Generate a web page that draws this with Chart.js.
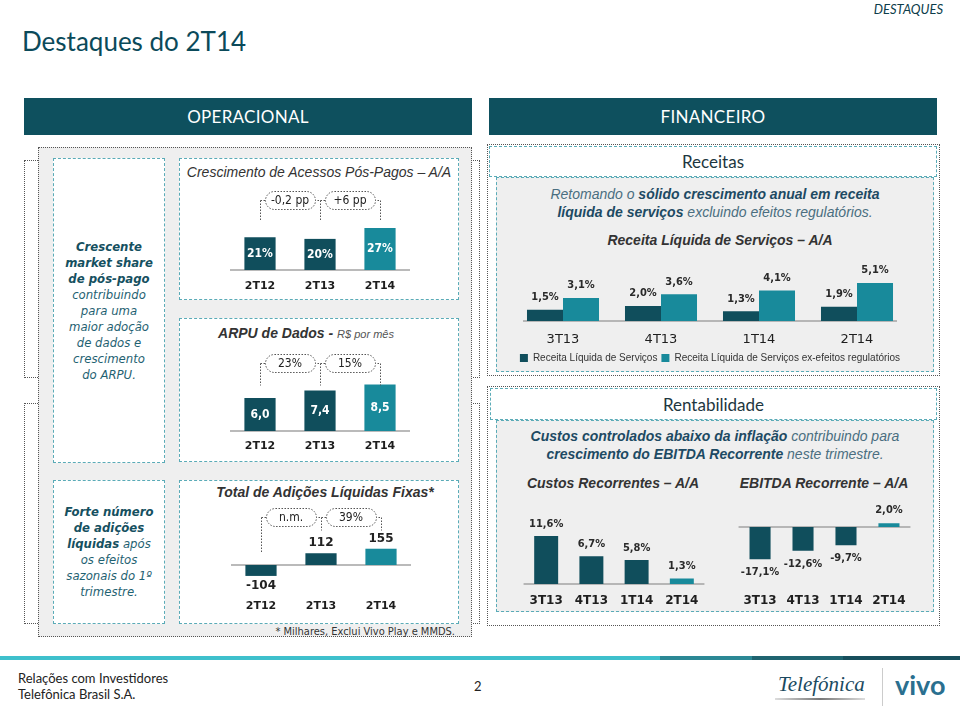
<!DOCTYPE html>
<html><head><meta charset="utf-8">
<script src="https://cdn.jsdelivr.net/npm/chart.js@4.4.1/dist/chart.umd.min.js"></script>
<style>
html,body{margin:0;padding:0;background:#fff;}
body{width:960px;height:707px;position:relative;overflow:hidden;font-family:'DejaVu Sans Condensed','DejaVu Sans',sans-serif;}
.abs{position:absolute;white-space:nowrap;}
.hdr{position:absolute;background:#0e505e;color:#fff;font:17px Lato,sans-serif;display:flex;align-items:center;justify-content:center;letter-spacing:0.3px;}
.wbox{position:absolute;background:#fff;border:1px dashed #5aabb7;box-sizing:border-box;}
.gbox{position:absolute;background:#efefef;box-sizing:border-box;border:1px dashed #5aabb7;}
.dot{position:absolute;border:1px dotted #555;box-sizing:border-box;}
canvas{position:absolute;}
.ctitle{position:absolute;text-align:center;font:italic 14px/16px 'Liberation Sans',Arial,sans-serif;color:#333;white-space:nowrap;}
.note{display:flex;align-items:center;justify-content:center;text-align:center;font:italic 13px/16px 'DejaVu Sans Condensed',sans-serif;color:#1f6272;}
.note b{color:#15505f;}
.sub{position:absolute;text-align:center;font:italic 14px/18px 'Liberation Sans',Arial,sans-serif;color:#4a6e80;white-space:nowrap;}
.sub b{color:#1d4a63;}
.boxhead{display:flex;align-items:center;justify-content:center;font:17px Lato,sans-serif;color:#1d3640;}
</style></head>
<body>
<div class="abs" style="left:22px;top:26px;font:26px/30px Lato,sans-serif;color:#0b4a5a;">Destaques do 2T14</div>
<div class="abs" style="right:17px;top:1px;font:italic 13px/16px Lato,sans-serif;color:#0d3d4b;">DESTAQUES</div>
<div class="hdr" style="left:24px;top:98px;width:448px;height:37px;">OPERACIONAL</div>
<div class="hdr" style="left:489px;top:98px;width:448px;height:37px;">FINANCEIRO</div>

<!-- left column frames -->
<div class="dot" style="left:24px;top:160px;width:456px;height:218px;"></div>
<div class="dot" style="left:24px;top:403px;width:456px;height:221px;"></div>
<div class="dot" style="left:38px;top:147px;width:434px;height:490px;background:#efefef;"></div>
<div class="wbox note" style="left:53px;top:158px;width:112px;height:305px;"><div><b>Crescente<br>market share<br>de pós-pago</b><br>contribuindo<br>para uma<br>maior adoção<br>de dados e<br>crescimento<br>do ARPU.</div></div>
<div class="wbox note" style="left:53px;top:480px;width:112px;height:144px;"><div><b>Forte número<br>de adições<br>líquidas</b> após<br>os efeitos<br>sazonais do 1º<br>trimestre.</div></div>
<div class="wbox" style="left:179px;top:158px;width:280px;height:142px;"></div>
<div class="wbox" style="left:179px;top:318px;width:280px;height:144px;"></div>
<div class="wbox" style="left:179px;top:480px;width:280px;height:144px;"></div>
<div class="ctitle" style="left:179px;top:164px;width:280px;">Crescimento de Acessos Pós-Pagos – A/A</div>
<div class="ctitle" style="left:179px;top:325px;width:254px;"><b>ARPU de Dados - </b><span style="font-size:11px;color:#555;">R$ por mês</span></div>
<div class="ctitle" style="left:185px;top:484px;width:280px;"><b>Total de Adições Líquidas Fixas*</b></div>
<div class="abs" style="right:505px;top:625px;font:11px/14px 'DejaVu Sans Condensed',sans-serif;color:#333;">* Milhares, Exclui Vivo Play e MMDS.</div>

<!-- right column frames -->
<div class="dot" style="left:487px;top:144px;width:453px;height:232px;"></div>
<div class="wbox boxhead" style="left:489px;top:146px;width:448px;height:31px;">Receitas</div>
<div class="gbox" style="left:496px;top:177px;width:438px;height:195px;"></div>
<div class="sub" style="left:496px;top:185px;width:438px;">Retomando o <b>sólido crescimento anual em receita</b><br><b>líquida de serviços</b> excluindo efeitos regulatórios.</div>
<div class="ctitle" style="left:520px;top:232px;width:400px;"><b>Receita Líquida de Serviços – A/A</b></div>

<div class="dot" style="left:487px;top:386px;width:453px;height:240px;"></div>
<div class="wbox boxhead" style="left:490px;top:388px;width:447px;height:32px;">Rentabilidade</div>
<div class="gbox" style="left:496px;top:420px;width:438px;height:192px;"></div>
<div class="sub" style="left:496px;top:427px;width:438px;"><b>Custos controlados abaixo da inflação</b> contribuindo para<br><b>crescimento do EBITDA Recorrente</b> neste trimestre.</div>
<div class="ctitle" style="left:513px;top:475px;width:200px;"><b>Custos Recorrentes – A/A</b></div>
<div class="ctitle" style="left:724px;top:475px;width:200px;"><b>EBITDA Recorrente – A/A</b></div>

<canvas id="cA" width="180" height="118" style="left:230px;top:180px;"></canvas>
<canvas id="cB" width="180" height="116" style="left:230px;top:343px;"></canvas>
<canvas id="cC" width="180" height="123" style="left:231px;top:497px;"></canvas>
<canvas id="cD" width="460" height="123" style="left:485px;top:250px;"></canvas>
<canvas id="cE" width="188" height="110" style="left:520px;top:502px;"></canvas>
<canvas id="cF" width="181" height="122" style="left:734px;top:490px;"></canvas>

<!-- footer -->
<div class="abs" style="left:0;top:656px;width:660px;height:4px;background:#3ec0cc;"></div>
<div class="abs" style="left:660px;top:656px;width:92px;height:4px;background:#2b8895;"></div>
<div class="abs" style="left:752px;top:656px;width:91px;height:4px;background:#1f6470;"></div>
<div class="abs" style="left:843px;top:656px;width:117px;height:4px;background:#174f5c;"></div>
<div class="abs" style="left:18px;top:670px;font:13px/16px Lato,sans-serif;color:#222;">Relações com Investidores<br>Telefônica Brasil S.A.</div>
<div class="abs" style="left:474px;top:678px;font:13px/16px Lato,sans-serif;color:#222;">2</div>
<div class="abs" style="left:778px;top:671px;font:italic 21px/26px 'Liberation Serif',serif;color:#1b4a60;">Telefónica</div>
<div class="abs" style="left:775px;top:698px;width:90px;height:2px;background:linear-gradient(90deg,#ddd,#777,#ddd);"></div>
<div class="abs" style="left:882px;top:668px;width:1px;height:38px;background:#ccc;"></div>
<div class="abs" style="left:895px;top:669px;font:bold 27px/32px Lato,sans-serif;color:#2a6f8f;">vivo</div>

<script>
// ---- data ----
const opCategories = ['2T12', '2T13', '2T14'];
const acessosGrowth = [21, 20, 27];
const acessosDeltas = ['-0,2 pp', '+6 pp'];
const arpuDados = [6.0, 7.4, 8.5];
const arpuDeltas = ['23%', '15%'];
const adicoesFixas = [-104, 112, 155];
const adicoesDeltas = ['n.m.', '39%'];
const finCategories = ['3T13', '4T13', '1T14', '2T14'];
const receitaServicos = [1.5, 2.0, 1.3, 1.9];
const receitaExRegulatorios = [3.1, 3.6, 4.1, 5.1];
const custosRecorrentes = [11.6, 6.7, 5.8, 1.3];
const ebitdaRecorrente = [-17.1, -12.6, -9.7, 2.0];

const DARK = '#104e5c', LIGHT = '#188a9b';
const fmt = {
  pct0: v => v + '%',
  dec1: v => v.toFixed(1).replace('.', ','),
  int: v => String(v),
  pct1: v => v.toFixed(1).replace('.', ',') + '%'
};

const baselinePlugin = {
  id: 'baseline',
  beforeDatasetsDraw(chart, args, o) {
    const {ctx, chartArea} = chart;
    const y = Math.round(chart.scales.y.getPixelForValue(0));
    const inset = (o && o.inset) || 0;
    ctx.save();
    ctx.strokeStyle = '#a3a3a3'; ctx.lineWidth = 1.5;
    ctx.beginPath(); ctx.moveTo(chartArea.left + inset, y); ctx.lineTo(chartArea.right - inset, y); ctx.stroke();
    ctx.restore();
  }
};

const valuePlugin = {
  id: 'valueLabels',
  afterDatasetsDraw(chart, args, o) {
    if (!o || !o.mode) return;
    const ctx = chart.ctx;
    ctx.save();
    ctx.font = o.labelFont; ctx.fillStyle = o.color;
    ctx.textAlign = 'center'; ctx.textBaseline = 'middle';
    chart.data.datasets.forEach((ds, di) => {
      chart.getDatasetMeta(di).data.forEach((bar, i) => {
        const v = ds.data[i];
        let y;
        if (o.mode === 'inside') y = (bar.y + bar.base) / 2;
        else y = v >= 0 ? bar.y - o.gap : bar.y + o.gap;
        ctx.fillText(fmt[o.format](v), bar.x, y);
      });
    });
    ctx.restore();
  }
};

const bracketPlugin = {
  id: 'brackets',
  afterDatasetsDraw(chart, args, o) {
    if (!o || !o.labels) return;
    const {ctx, chartArea} = chart;
    const xs = chart.scales.x, ys = chart.scales.y;
    const vals = chart.data.datasets[0].data;
    const yc = Math.round(chartArea.top + o.offset) + 0.5;
    const n = vals.length;
    ctx.save();
    ctx.strokeStyle = '#555'; ctx.lineWidth = 1; ctx.setLineDash([1.5, 1.5]);
    ctx.beginPath();
    ctx.moveTo(Math.round(xs.getPixelForValue(0)) + 0.5, yc);
    ctx.lineTo(Math.round(xs.getPixelForValue(n - 1)) + 0.5, yc);
    for (let i = 0; i < n; i++) {
      const x = Math.round(xs.getPixelForValue(i)) + 0.5;
      const end = vals[i] < 0 ? ys.getPixelForValue(0) - o.negGap : yc + o.drop;
      ctx.moveTo(x, yc); ctx.lineTo(x, end);
    }
    ctx.stroke();
    ctx.font = o.pillFont; ctx.textAlign = 'center'; ctx.textBaseline = 'middle';
    o.labels.forEach((t, i) => {
      const cx = (xs.getPixelForValue(i) + xs.getPixelForValue(i + 1)) / 2;
      const w = o.w, h = o.h;
      ctx.beginPath();
      ctx.roundRect(Math.round(cx - w / 2) + 0.5, yc - h / 2, w, h, h / 2);
      ctx.fillStyle = '#fff'; ctx.fill(); ctx.stroke();
      ctx.fillStyle = '#222'; ctx.fillText(t, cx, yc + 0.5);
    });
    ctx.restore();
  }
};

function makeBar(id, c) {
  return new Chart(document.getElementById(id), {
    type: 'bar',
    data: {labels: c.labels, datasets: c.datasets},
    options: {
      responsive: false, animation: false, events: [],
      layout: {padding: {top: c.padTop, left: c.padLeft || 0, right: c.padRight || 0, bottom: 0}},
      plugins: {
        legend: c.legend || {display: false},
        tooltip: {enabled: false},
        valueLabels: c.vl,
        brackets: c.br || {},
        baseline: {inset: c.inset || 0}
      },
      scales: {
        x: {
          grid: {display: false, drawTicks: false}, border: {display: false},
          ticks: {padding: c.tickPad, color: '#1e1e1e', font: c.tickFont, maxRotation: 0, autoSkip: false},
          afterFit: s => { s.height = c.axisH; }
        },
        y: {display: false, min: c.min, max: c.max}
      }
    },
    plugins: [baselinePlugin, valuePlugin, bracketPlugin]
  });
}

const opTickFont = {family: 'DejaVu Sans', size: 11, weight: 'bold'};
const pill = {offset: 0, w: 50, h: 18, pillFont: '12px "DejaVu Sans Condensed"', negGap: 13};

makeBar('cA', {
  labels: opCategories,
  datasets: [{data: acessosGrowth, backgroundColor: [DARK, DARK, LIGHT], borderWidth: 0, barPercentage: 0.52, categoryPercentage: 1}],
  padTop: 20, min: 0, max: 45, axisH: 28, tickPad: 10, tickFont: opTickFont,
  vl: {mode: 'inside', color: '#fff', labelFont: 'bold 12px "DejaVu Sans Condensed"', format: 'pct0'},
  br: Object.assign({}, pill, {labels: acessosDeltas, drop: 21})
});
makeBar('cB', {
  labels: opCategories,
  datasets: [{data: arpuDados, backgroundColor: [DARK, DARK, LIGHT], borderWidth: 0, barPercentage: 0.52, categoryPercentage: 1}],
  padTop: 20, min: 0, max: 12.4, axisH: 28, tickPad: 9, tickFont: opTickFont,
  vl: {mode: 'inside', color: '#fff', labelFont: 'bold 12px "DejaVu Sans Condensed"', format: 'dec1'},
  br: Object.assign({}, pill, {labels: arpuDeltas, drop: 22})
});
makeBar('cC', {
  labels: opCategories,
  datasets: [{data: adicoesFixas, backgroundColor: [DARK, DARK, LIGHT], borderWidth: 0, barPercentage: 0.52, categoryPercentage: 1}],
  padTop: 20, min: -257, max: 457, axisH: 28, tickPad: 8, tickFont: opTickFont,
  vl: {mode: 'outside', gap: 10, color: '#222', labelFont: 'bold 12px "DejaVu Sans"', format: 'int'},
  br: Object.assign({}, pill, {labels: adicoesDeltas, drop: 13})
});
makeBar('cD', {
  labels: finCategories,
  datasets: [
    {label: 'Receita Líquida de Serviços', data: receitaServicos, backgroundColor: DARK, borderWidth: 0, barPercentage: 1, categoryPercentage: 0.735},
    {label: 'Receita Líquida de Serviços ex-efeitos regulatórios', data: receitaExRegulatorios, backgroundColor: LIGHT, borderWidth: 0, barPercentage: 1, categoryPercentage: 0.735}
  ],
  padTop: 10, padLeft: 29, padRight: 39, inset: 9, min: 0, max: 8.2, axisH: 28, tickPad: 11,
  tickFont: {family: 'DejaVu Sans', size: 13},
  legend: {display: true, position: 'bottom', labels: {boxWidth: 8, boxHeight: 8, padding: 4, color: '#333', font: {family: 'Liberation Sans', size: 10}}},
  vl: {mode: 'outside', gap: 12.5, color: '#2a2a2a', labelFont: 'bold 11px "DejaVu Sans Condensed"', format: 'pct1'}
});
makeBar('cE', {
  labels: finCategories,
  datasets: [{data: custosRecorrentes, backgroundColor: [DARK, DARK, DARK, LIGHT], borderWidth: 0, barPercentage: 0.53, categoryPercentage: 1}],
  padTop: 10, min: 0, max: 17.4, axisH: 28, tickPad: 10,
  tickFont: {family: 'DejaVu Sans', size: 12, weight: 'bold'},
  vl: {mode: 'outside', gap: 12, color: '#2a2a2a', labelFont: 'bold 11px "DejaVu Sans Condensed"', format: 'pct1'}
});
makeBar('cF', {
  labels: finCategories,
  datasets: [{data: ebitdaRecorrente, backgroundColor: [DARK, DARK, DARK, LIGHT], borderWidth: 0, barPercentage: 0.49, categoryPercentage: 1}],
  padTop: 10, min: -30.3, max: 14.4, axisH: 28, tickPad: 10,
  tickFont: {family: 'DejaVu Sans', size: 12, weight: 'bold'},
  vl: {mode: 'outside', gap: 13, color: '#2a2a2a', labelFont: 'bold 11px "DejaVu Sans Condensed"', format: 'pct1'}
});
</script>
</body></html>
